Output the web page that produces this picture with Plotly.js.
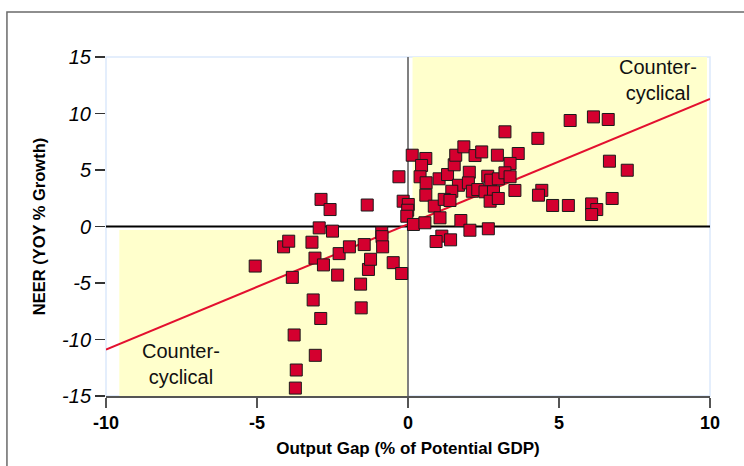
<!DOCTYPE html>
<html>
<head>
<meta charset="utf-8">
<script src="https://cdn.plot.ly/plotly-3.0.1.min.js"></script>
<style>html,body{margin:0;padding:0;background:#fff;}#chart{width:744px;height:466px;}</style>
</head>
<body>
<div id="chart"></div>
<script>
// Output gap (% of potential GDP)
const outputGap = [
  -5.06,-4.12,-3.95,-3.83,-3.77,-3.70,-3.73,-3.18,-3.08,-3.14,-3.07,-2.94,-2.88,-2.89,-2.80,-2.58,-2.50,-2.33,-2.28,-1.94,
  -1.57,-1.55,-1.45,-1.35,-1.31,-1.24,-0.87,-0.86,-0.84,-0.49,-0.21,-0.30,-0.16,0.01,-0.01,-0.04,
  0.14,0.59,0.45,0.40,0.60,0.59,0.87,1.06,0.18,0.56,1.03,1.31,1.53,1.58,1.85,2.22,2.44,2.03,1.67,2.00,
  1.45,1.20,1.39,2.13,2.31,2.64,2.74,2.55,2.83,2.72,2.99,2.96,3.65,3.38,2.99,3.21,3.38,3.54,1.75,2.05,
  2.66,1.12,0.93,1.41,3.21,4.30,5.37,6.14,6.63,6.67,7.26,6.76,6.08,6.25,6.08,5.31,4.79,4.43,4.32
];
// NEER (YOY % growth)
const neerGrowth = [
  -3.5,-1.8,-1.3,-4.5,-9.6,-12.7,-14.3,-1.39,-2.8,-6.5,-11.4,-0.12,2.4,-8.14,-3.4,1.5,-0.41,-4.3,-2.4,-1.8,
  -5.1,-7.2,-1.6,1.9,-3.8,-2.9,-0.56,-0.9,-1.8,-3.2,-4.16,4.4,2.24,1.95,1.44,0.91,
  6.31,6.02,5.4,4.4,3.87,2.77,1.8,0.77,0.18,0.33,4.22,4.6,5.46,6.31,7.05,6.28,6.6,4.8,3.65,3.86,
  3.12,2.4,2.3,3.12,3.27,4.45,4.1,3.07,3.07,2.24,2.48,6.31,6.46,5.58,4.22,4.75,4.4,3.19,0.53,-0.33,
  -0.2,-0.85,-1.33,-1.18,8.38,7.8,9.38,9.7,9.47,5.78,4.98,2.48,2.0,1.5,1.06,1.86,1.86,3.2,2.77
];
// Fitted trend line end points
const fitX = [-10, 10];
const fitY = [-10.9, 11.3];

const xTicks = [-10, -5, 0, 5, 10];
const yTicks = [-15, -10, -5, 0, 5, 10, 15];
const regionLabel = 'Counter-<br>cyclical';

const traces = [
  {
    x: fitX, y: fitY, type: 'scatter', mode: 'lines',
    line: {color: '#e3102f', width: 2}, hoverinfo: 'skip', showlegend: false
  },
  {
    x: outputGap, y: neerGrowth, type: 'scatter', mode: 'markers',
    marker: {symbol: 'square', size: 12, color: '#d4002f', line: {color: '#1a1a1a', width: 1}},
    showlegend: false
  }
];

const layout = {
  width: 744, height: 466,
  margin: {l: 106, r: 34, t: 57, b: 70},
  paper_bgcolor: '#ffffff', plot_bgcolor: '#ffffff',
  showlegend: false,
  font: {family: 'Liberation Sans, Arial, sans-serif', color: '#000'},
  xaxis: {
    range: [-10, 10], tickvals: xTicks, ticktext: xTicks.map(String),
    showgrid: false, zeroline: false,
    showline: true, linecolor: '#555555', linewidth: 1.5,
    ticks: 'outside', ticklen: 10, tickcolor: '#555555', tickwidth: 1.5,
    tickfont: {size: 18, weight: 'bold', color: '#000'},
    title: {text: 'Output Gap (% of Potential GDP)', font: {size: 17, weight: 'bold', color: '#000'}, standoff: 10}
  },
  yaxis: {
    range: [-15, 15], tickvals: yTicks, ticktext: yTicks.map(String),
    showgrid: false, zeroline: false, showline: false,
    ticks: 'outside', ticklen: 10, tickcolor: '#333333', tickwidth: 1.5,
    tickfont: {size: 20, style: 'italic', color: '#000'},
    title: {text: 'NEER (YOY % Growth)', font: {size: 16.5, weight: 'bold', color: '#000'}, standoff: 12}
  },
  shapes: [
    {type: 'rect', xref: 'x', yref: 'y', x0: 0.15, x1: 9.9, y0: 0, y1: 15, fillcolor: '#ffffcc', line: {width: 0}, layer: 'below'},
    {type: 'rect', xref: 'x', yref: 'y', x0: -9.56, x1: 0, y0: -15, y1: -0.3, fillcolor: '#ffffcc', line: {width: 0}, layer: 'below'},
    {type: 'rect', xref: 'paper', yref: 'paper', x0: 0, x1: 1, y0: 0, y1: 1, line: {color: '#dbe9fb', width: 1.5}, layer: 'below'},
    {type: 'line', xref: 'x', yref: 'y', x0: 0, x1: 0, y0: -15, y1: 15, line: {color: '#808080', width: 2}, layer: 'below'},
    {type: 'line', xref: 'x', yref: 'y', x0: -10, x1: 10, y0: 0, y1: 0, line: {color: '#000000', width: 2}, layer: 'below'},
    {type: 'rect', xref: 'paper', yref: 'paper', x0: -0.164, x1: 1.3, y0: -0.4, y1: 1.1327, line: {color: '#6a6a6a', width: 1.5}, fillcolor: 'rgba(0,0,0,0)'}
  ],
  annotations: [
    {x: 8.28, y: 12.96, xref: 'x', yref: 'y', text: regionLabel, showarrow: false, font: {size: 20, color: '#111'}, align: 'center'},
    {x: -7.52, y: -12.2, xref: 'x', yref: 'y', text: regionLabel, showarrow: false, font: {size: 20, color: '#111'}, align: 'center'}
  ]
};

Plotly.newPlot('chart', traces, layout, {displayModeBar: false, staticPlot: true});
</script>
</body>
</html>
